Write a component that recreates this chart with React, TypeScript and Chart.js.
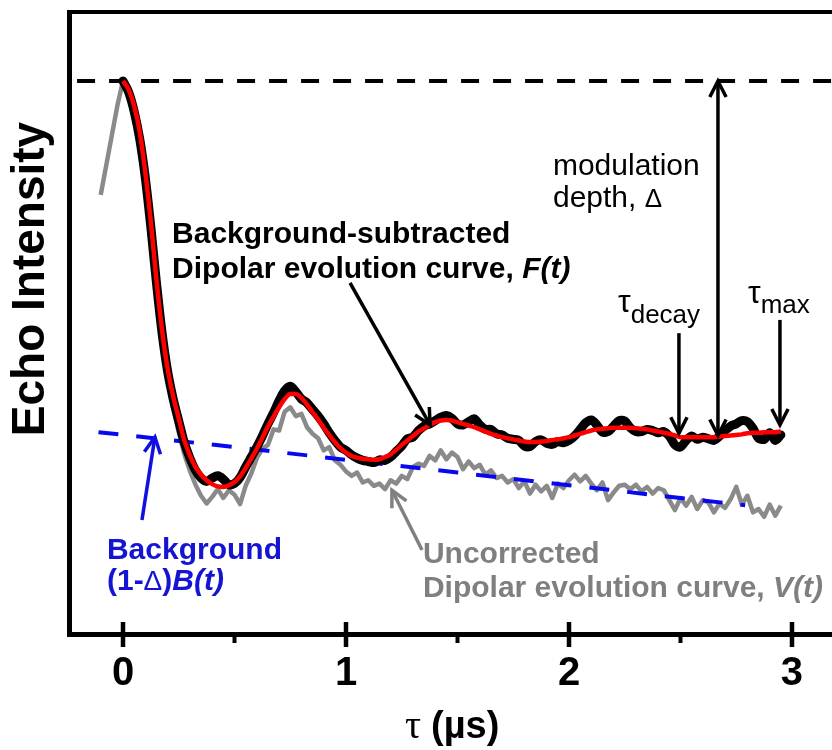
import React, { useEffect, useRef } from 'react';
import { Chart, registerables } from 'chart.js';

Chart.register(...registerables);

// ---- data ----
const sampleStep = 0.025; // µs between recorded samples

// Fitted background-subtracted curve F(t) (red), t = 0 .. 2.95
const fitStart = 0;
const fitValues = [
  100, 98.5, 95.5, 90.8, 83.5, 74.5, 64, 55, 48, 43,
  39, 35, 32.3, 30.2, 28.8, 27.8, 27.1, 26.7, 26.6, 26.9,
  27.5, 28.5, 30, 31.7, 33.5, 35.5, 37.5, 39.3, 41, 42.5,
  43.4, 43.4, 42.7, 41.5, 40.1, 38.8, 37.3, 36, 34.7, 33.6,
  32.8, 32.2, 31.9, 31.7, 31.6, 31.5, 31.6, 32, 32.5, 33.3,
  34.2, 35, 35.8, 36.6, 37.2, 37.8, 38.3, 38.6, 38.7, 38.6,
  38.3, 38, 37.7, 37.4, 37, 36.6, 36.2, 35.9, 35.6, 35.4,
  35.2, 35, 34.8, 34.7, 34.7, 34.8, 34.9, 35.1, 35.2, 35.4,
  35.6, 35.9, 36.2, 36.5, 36.8, 37, 37.1, 37.2, 37.3, 37.3,
  37.3, 37.3, 37.2, 37.1, 37, 36.8, 36.6, 36.4, 36.2, 35.9,
  35.6, 35.6, 35.6, 35.6, 35.6, 35.6, 35.6, 35.7, 35.8, 35.9,
  36, 36.1, 36.3, 36.4, 36.4, 36.5, 36.5, 36.5, 36.6,
];

// Experimental background-subtracted F(t) (black), t = 0 .. 2.95
const fDataStart = 0;
const fDataValues = [
  100, 98, 94.5, 89.5, 82.5, 73.5, 63.5, 54.5, 47.5, 42.5,
  38.5, 34.6, 31.8, 29.6, 28.2, 27.6, 28.2, 28.6, 28.0, 27.0,
  27.2, 28.3, 30.2, 32.0, 33.8, 35.8, 38.0, 40.0, 42.2, 44.0,
  44.8, 43.8, 42.5, 41.8, 40.6, 39.4, 38.0, 36.4, 35.0, 33.8,
  33.2, 32.4, 31.8, 31.4, 31.2, 31.0, 31.5, 31.4, 32.0, 33.0,
  34.0, 35.3, 35.6, 36.8, 37.6, 38.0, 38.6, 39.2, 39.5, 39.0,
  38.0, 37.8, 38.4, 38.9, 37.8, 37.0, 37.0, 36.2, 36.0, 35.4,
  35.2, 35.0, 34.0, 33.9, 34.8, 35.1, 34.5, 34.3, 34.8, 34.6,
  35.0, 35.8, 37.0, 38.2, 38.7, 37.8, 36.5, 36.6, 37.6, 38.6,
  38.5, 37.3, 36.6, 36.6, 37.0, 36.8, 36.4, 36.6, 35.8, 34.2,
  33.8, 35.0, 35.8, 35.2, 35.6, 35.3, 35.0, 35.8, 36.8, 37.6,
  38.0, 38.6, 38.4, 37.2, 35.4, 35.2, 36.4, 35.0, 36.0,
];

// Uncorrected V(t) (gray), t = -0.1 .. 2.95
const vDataStart = -0.1;
const vDataValues = [
  79.4, 84.8, 90.2, 95.6, 100, 97.5, 93.5, 88.5, 81.5, 72.5,
  62.5, 53.5, 46.5, 41, 36.5, 32.5, 29.5, 27, 25, 23.6,
  24.8, 26.2, 24.6, 26, 25.2, 23.5, 26.8, 29, 31.8, 33.5,
  34.2, 37, 36.8, 40.2, 41, 39.4, 39.8, 37.4, 36.2, 35.4,
  33.2, 33.8, 31.4, 30.6, 29.4, 28.6, 29.2, 27.4, 27.8, 26.8,
  27.2, 26.2, 27.8, 27.2, 28.6, 28.0, 30.2, 30.8, 30.4, 32.2,
  31.4, 33.2, 31.6, 32.8, 32.0, 29.8, 31.2, 30.0, 30.6, 28.8,
  29.6, 28.2, 28.6, 27.4, 28.0, 26.4, 27.6, 25.4, 27.0, 25.8,
  26.8, 24.6, 27.2, 26.4, 27.8, 28.8, 27.6, 28.6, 27.2, 26.0,
  27.4, 24.2, 25.6, 26.8, 27.0, 26.2, 27.0, 25.8, 26.6, 25.4,
  26.4, 26.0, 24.2, 22.4, 24.6, 23.2, 24.8, 22.6, 24.2, 23.8,
  22.0, 23.6, 22.8, 24.4, 26.6, 23.4, 25.0, 22.0, 22.6, 21.2,
  23.4, 21.4, 23.2,
];

// Background (1-Δ)B(t) (blue dashed)
const bgTimes = [-0.11, 0.5, 1.0, 1.5, 2.0, 2.5, 2.79];
const bgValues = [36.5, 33.8, 31.5, 29.2, 26.9, 24.6, 23.3];

// Reference level (top of the echo) and plateau level
const peakTimes = [-0.206, 3.25];
const peakValues = [100, 100];
const plateauLevel = 35.9;

// Axis
const xMin = -0.2377;
const xMax = 3.1794;
const yMin = 0;
const yMax = 112.48;
const tickValues = [0, 0.5, 1, 1.5, 2, 2.5, 3];
const majorTicks = [0, 1, 2, 3];
const minorTicks = [0.5, 1.5, 2.5];

const SANS = '"Liberation Sans", Arial, sans-serif';
const SERIF = '"Liberation Serif", "Times New Roman", serif';
const BLUE_TEXT = '#1414d2';
const GRAY_TEXT = '#7f7f7f';

type Run = [string, string, string];

function drawRuns(ctx: CanvasRenderingContext2D, x: number, y: number, runs: Run[]) {
  let cx = x;
  ctx.textBaseline = 'alphabetic';
  ctx.textAlign = 'left';
  for (const [text, font, color] of runs) {
    ctx.font = font;
    ctx.fillStyle = color;
    ctx.fillText(text, cx, y);
    cx += ctx.measureText(text).width;
  }
}

function head(ctx: CanvasRenderingContext2D, tipX: number, tipY: number, fromX: number, fromY: number) {
  const ang = Math.atan2(tipY - fromY, tipX - fromX);
  const len = 18;
  const spread = 0.47;
  ctx.beginPath();
  ctx.moveTo(tipX - len * Math.cos(ang - spread), tipY - len * Math.sin(ang - spread));
  ctx.lineTo(tipX, tipY);
  ctx.lineTo(tipX - len * Math.cos(ang + spread), tipY - len * Math.sin(ang + spread));
  ctx.stroke();
}

function arrow(
  ctx: CanvasRenderingContext2D,
  x1: number, y1: number, x2: number, y2: number,
  color: string, width: number, bothEnds = false,
) {
  ctx.save();
  ctx.strokeStyle = color;
  ctx.lineWidth = width;
  ctx.lineCap = 'butt';
  ctx.lineJoin = 'miter';
  ctx.beginPath();
  ctx.moveTo(x1, y1);
  ctx.lineTo(x2, y2);
  ctx.stroke();
  head(ctx, x2, y2, x1, y1);
  if (bothEnds) head(ctx, x1, y1, x2, y2);
  ctx.restore();
}

const deerPlugin = {
  id: 'deerAnnotations',
  afterDatasetsDraw(chart: any) {
    const { ctx, chartArea: a, scales } = chart;
    const x = scales.x;
    const y = scales.y;
    const px = (t: number) => x.getPixelForValue(t);
    const py = (v: number) => y.getPixelForValue(v);
    ctx.save();

    // frame
    ctx.strokeStyle = '#000';
    ctx.lineCap = 'butt';
    ctx.lineWidth = 5;
    ctx.beginPath();
    ctx.moveTo(a.left - 0.5, a.top - 2);
    ctx.lineTo(a.left - 0.5, a.bottom + 2.5);
    ctx.stroke();
    ctx.lineWidth = 4;
    ctx.beginPath();
    ctx.moveTo(a.left - 3, a.top);
    ctx.lineTo(a.right + 5, a.top);
    ctx.stroke();
    ctx.lineWidth = 5;
    ctx.beginPath();
    ctx.moveTo(a.left - 3, a.bottom + 0.5);
    ctx.lineTo(a.right + 5, a.bottom + 0.5);
    ctx.stroke();

    // tick marks
    ctx.lineWidth = 4.5;
    for (const t of majorTicks) {
      ctx.beginPath();
      ctx.moveTo(px(t), a.bottom - 12);
      ctx.lineTo(px(t), a.bottom + 13);
      ctx.stroke();
    }
    ctx.lineWidth = 4;
    for (const t of minorTicks) {
      ctx.beginPath();
      ctx.moveTo(px(t), a.bottom);
      ctx.lineTo(px(t), a.bottom + 9);
      ctx.stroke();
    }

    // arrows
    arrow(ctx, px(2.668), py(100), px(2.668), py(plateauLevel), '#000', 3.5, true);
    arrow(ctx, px(2.493), py(54.4), px(2.493), py(36.3), '#000', 3.5);
    arrow(ctx, px(2.946), py(56.8), px(2.946), py(37.8), '#000', 3.5);
    arrow(ctx, px(1.018), py(63.5), px(1.377), py(37.8), '#000', 3.5);
    arrow(ctx, px(0.085), py(20.6), px(0.143), py(35.6), '#1010e0', 3.5);
    arrow(ctx, px(1.341), py(15.2), px(1.206), py(26.0), '#808080', 3.5);

    // texts
    const b30 = `bold 30px ${SANS}`;
    const bi30 = `italic bold 30px ${SANS}`;
    const n30 = `30px ${SANS}`;

    drawRuns(ctx, px(1.928), py(83.0), [['modulation', n30, '#000']]);
    drawRuns(ctx, px(1.928), py(83.0) + 32, [['depth, ', n30, '#000'], ['\u0394', `26px ${SANS}`, '#000']]);

    drawRuns(ctx, px(0.22), py(70.7), [['Background-subtracted', b30, '#000']]);
    drawRuns(ctx, px(0.22), py(70.7) + 35, [['Dipolar evolution curve, ', b30, '#000'], ['F(t)', bi30, '#000']]);

    drawRuns(ctx, px(-0.072), py(13.6), [['Background', b30, BLUE_TEXT]]);
    drawRuns(ctx, px(-0.072), py(13.6) + 31, [
      ['(1-', b30, BLUE_TEXT],
      ['\u0394', `28px ${SANS}`, BLUE_TEXT],
      [')', b30, BLUE_TEXT],
      ['B(t)', bi30, BLUE_TEXT],
    ]);

    drawRuns(ctx, px(1.345), py(12.8), [['Uncorrected', b30, GRAY_TEXT]]);
    drawRuns(ctx, px(1.345), py(12.8) + 34, [['Dipolar evolution curve, ', b30, GRAY_TEXT], ['V(t)', bi30, GRAY_TEXT]]);

    // tau labels
    ctx.font = `32px ${SANS}`;
    const tauW = ctx.measureText('\u03c4').width;
    drawRuns(ctx, px(2.22), py(58.2), [['\u03c4', `32px ${SANS}`, '#000']]);
    drawRuns(ctx, px(2.22) + tauW, py(58.2) + 11, [['decay', `26px ${SANS}`, '#000']]);
    drawRuns(ctx, px(2.803), py(59.9), [['\u03c4', `32px ${SANS}`, '#000']]);
    drawRuns(ctx, px(2.803) + tauW, py(59.9) + 10, [['max', `26px ${SANS}`, '#000']]);

    // axis titles
    drawRuns(ctx, 405, 738, [['\u03c4 ', `40px ${SERIF}`, '#000'], ['(\u00b5s)', `bold 38px ${SANS}`, '#000']]);

    ctx.translate(31, 279);
    ctx.rotate(-Math.PI / 2);
    ctx.font = `bold 46px ${SANS}`;
    ctx.fillStyle = '#000';
    ctx.textAlign = 'center';
    ctx.textBaseline = 'middle';
    ctx.fillText('Echo Intensity', 0, 0);

    ctx.restore();
  },
};

function series(start: number, values: number[]) {
  return values.map((v, i) => ({ x: start + i * sampleStep, y: v }));
}

export default function App() {
  const canvasRef = useRef<HTMLCanvasElement | null>(null);

  useEffect(() => {
    document.body.style.margin = '0';
    const canvas = canvasRef.current;
    if (!canvas) return;
    const chart = new Chart(canvas, {
      type: 'line',
      data: {
        datasets: [
          {
            label: 'Fit F(t)',
            data: series(fitStart, fitValues),
            borderColor: '#ff0000',
            borderWidth: 4.5,
            pointRadius: 0,
            cubicInterpolationMode: 'monotone',
            order: 0,
          },
          {
            label: 'F(t)',
            data: series(fDataStart, fDataValues),
            borderColor: '#000000',
            borderWidth: 9,
            pointRadius: 0,
            tension: 0.3,
            borderJoinStyle: 'round',
            borderCapStyle: 'round',
            order: 1,
          },
          {
            label: '(1-Δ)B(t)',
            data: bgTimes.map((t, i) => ({ x: t, y: bgValues[i] })),
            borderColor: '#0808f0',
            borderWidth: 4,
            borderDash: [20, 18],
            pointRadius: 0,
            order: 2,
          },
          {
            label: 'V(t)',
            data: series(vDataStart, vDataValues),
            borderColor: '#8a8a8a',
            borderWidth: 4.5,
            pointRadius: 0,
            borderJoinStyle: 'round',
            order: 3,
          },
          {
            label: 'peak',
            data: peakTimes.map((t, i) => ({ x: t, y: peakValues[i] })),
            borderColor: '#000000',
            borderWidth: 4,
            borderDash: [18, 14],
            pointRadius: 0,
            order: 4,
          },
        ],
      } as any,
      options: {
        animation: false,
        responsive: false,
        maintainAspectRatio: false,
        layout: { padding: { left: 70, top: 12, right: 0, bottom: 36 } },
        plugins: { legend: { display: false }, tooltip: { enabled: false } },
        scales: {
          x: {
            type: 'linear',
            min: xMin,
            max: xMax,
            afterBuildTicks: (scale: any) => {
              scale.ticks = tickValues.map((v) => ({ value: v }));
            },
            grid: { display: false, drawTicks: false },
            border: { display: false },
            ticks: {
              padding: 20,
              maxRotation: 0,
              autoSkip: false,
              color: '#000',
              font: { family: SANS, size: 40, weight: 'bold', lineHeight: 1 },
              callback: (v: any) => (Number.isInteger(Number(v)) ? String(v) : ''),
            },
          },
          y: {
            type: 'linear',
            display: false,
            min: yMin,
            max: yMax,
          },
        },
      } as any,
      plugins: [deerPlugin],
    });
    return () => chart.destroy();
  }, []);

  return (
    <canvas
      ref={canvasRef}
      width={832}
      height={750}
      style={{ display: 'block', width: 832, height: 750 }}
    />
  );
}
